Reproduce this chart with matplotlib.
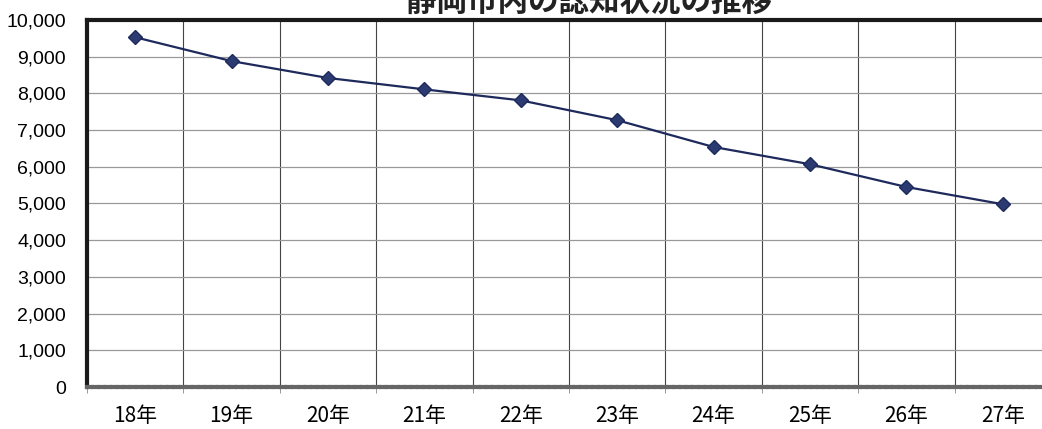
import numpy as np
import matplotlib
matplotlib.use("Agg")
from matplotlib import pyplot as plt

plt.rcParams["font.family"] = ["Noto Sans CJK JP", "DejaVu Sans"]

# Data
years = ["18年", "19年", "20年", "21年", "22年", "23年", "24年", "25年", "26年", "27年"]
counts = [9530, 8880, 8420, 8110, 7810, 7270, 6540, 6070, 5450, 4980]
title = "静岡市内の認知状況の推移"

fig = plt.figure(figsize=(10.42, 4.29), dpi=100)
ax = fig.add_axes([87 / 1042, 1 - 387 / 429, (1051 - 87) / 1042, (387 - 20) / 429])

x = np.arange(len(years))
ax.plot(x, counts, color="#1e2a5c", lw=1.6, marker="D", ms=7,
        markerfacecolor="#2b3a70", markeredgecolor="#1e2a5c", zorder=3)

ax.set_xlim(-0.5, len(years) - 0.5)
ax.set_ylim(0, 10000)
ax.set_yticks(np.arange(0, 10001, 1000))
ax.set_yticklabels([f"{v:,}" for v in range(0, 10001, 1000)], fontsize=14,
                   family=["Liberation Sans"])
ax.set_xticks(x)
ax.set_xticklabels(years, fontsize=15)
ax.set_xticks(np.arange(-0.5, len(years)), minor=True)
ax.tick_params(axis="x", which="major", length=0, pad=13)
ax.tick_params(axis="x", which="minor", length=4, color="#888888")
ax.tick_params(axis="y", length=0, pad=15)

ax.grid(axis="y", color="#999999", lw=0.9)
ax.grid(axis="x", which="minor", color="#444444", lw=0.8)
ax.set_axisbelow(True)

for side in ["top", "left"]:
    ax.spines[side].set_linewidth(3)
    ax.spines[side].set_color("#1a1a1a")
ax.spines["right"].set_visible(False)
ax.spines["bottom"].set_linewidth(3)
ax.spines["bottom"].set_color("#666666")
ax.spines["bottom"].set_linestyle((0, (1, 0.5)))

# title is clipped by the top edge, as in the source image
fig.text(0.565, 0.995, title, ha="center", va="center", fontsize=22,
         fontweight="bold", color="#222222")

fig.savefig("out.png", dpi=100)
